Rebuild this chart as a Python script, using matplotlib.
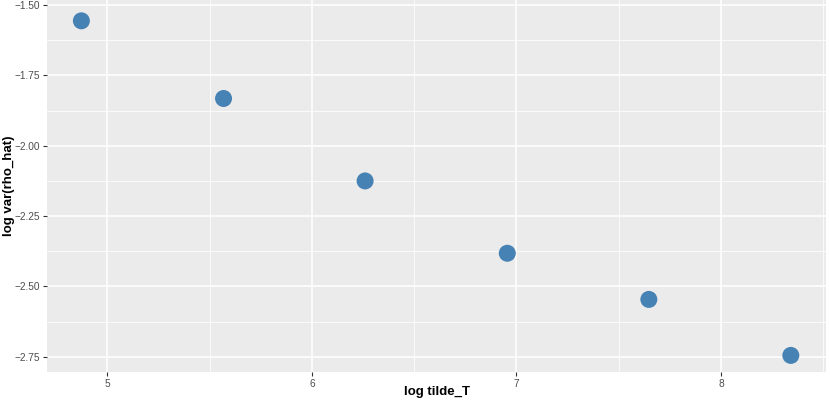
import matplotlib
matplotlib.use("Agg")
import matplotlib.pyplot as plt
from matplotlib.ticker import FixedLocator

plt.rcParams['font.family'] = ['Liberation Sans', 'DejaVu Sans']

log_tilde_T = [4.873, 5.568, 6.260, 6.955, 7.647, 8.341]
log_var_rho_hat = [-1.556, -1.832, -2.125, -2.382, -2.546, -2.745]

x_ticks = [5, 6, 7, 8]
y_ticks = [-2.75, -2.50, -2.25, -2.00, -1.75, -1.50]
y_tick_labels = ["\u22122.75", "\u22122.50", "\u22122.25", "\u22122.00", "\u22121.75", "\u22121.50"]

fig = plt.figure(figsize=(8.3, 4.03), dpi=100)
ax = fig.add_axes([47/830, 31/403, 779/830, 372/403])
ax.set_facecolor('#EBEBEB')
for s in ax.spines.values():
    s.set_visible(False)

ax.set_xlim(4.705, 8.513)
ax.set_ylim(-2.804, -1.482)
ax.xaxis.set_major_locator(FixedLocator(x_ticks))
ax.xaxis.set_minor_locator(FixedLocator([4.5, 5.5, 6.5, 7.5, 8.5]))
ax.yaxis.set_major_locator(FixedLocator(y_ticks))
ax.yaxis.set_minor_locator(FixedLocator([-2.875, -2.625, -2.375, -2.125, -1.875, -1.625]))
ax.set_yticklabels(y_tick_labels)
ax.set_xticklabels([str(v) for v in x_ticks])

ax.grid(which='major', color='white', linewidth=1.1)
ax.grid(which='minor', color='white', linewidth=0.55)
ax.set_axisbelow(True)
ax.tick_params(which='major', length=2.7, width=0.8, color='#333333', labelcolor='#4D4D4D', labelsize=7.3, pad=2)
ax.tick_params(which='minor', length=0)

ax.scatter(log_tilde_T, log_var_rho_hat, s=150, color='#4682B4', edgecolors='none', zorder=3)

ax.set_xlabel('log tilde_T', fontsize=9.5, fontweight='bold', va='center')
ax.set_ylabel('log var(rho_hat)', fontsize=9.5, fontweight='bold', va='center')
ax.xaxis.set_label_coords(0.5, -(392 - 372) / 372)
ax.yaxis.set_label_coords(-(47 - 9.5) / 779, 0.5)

fig.savefig('out.png', dpi=100)
